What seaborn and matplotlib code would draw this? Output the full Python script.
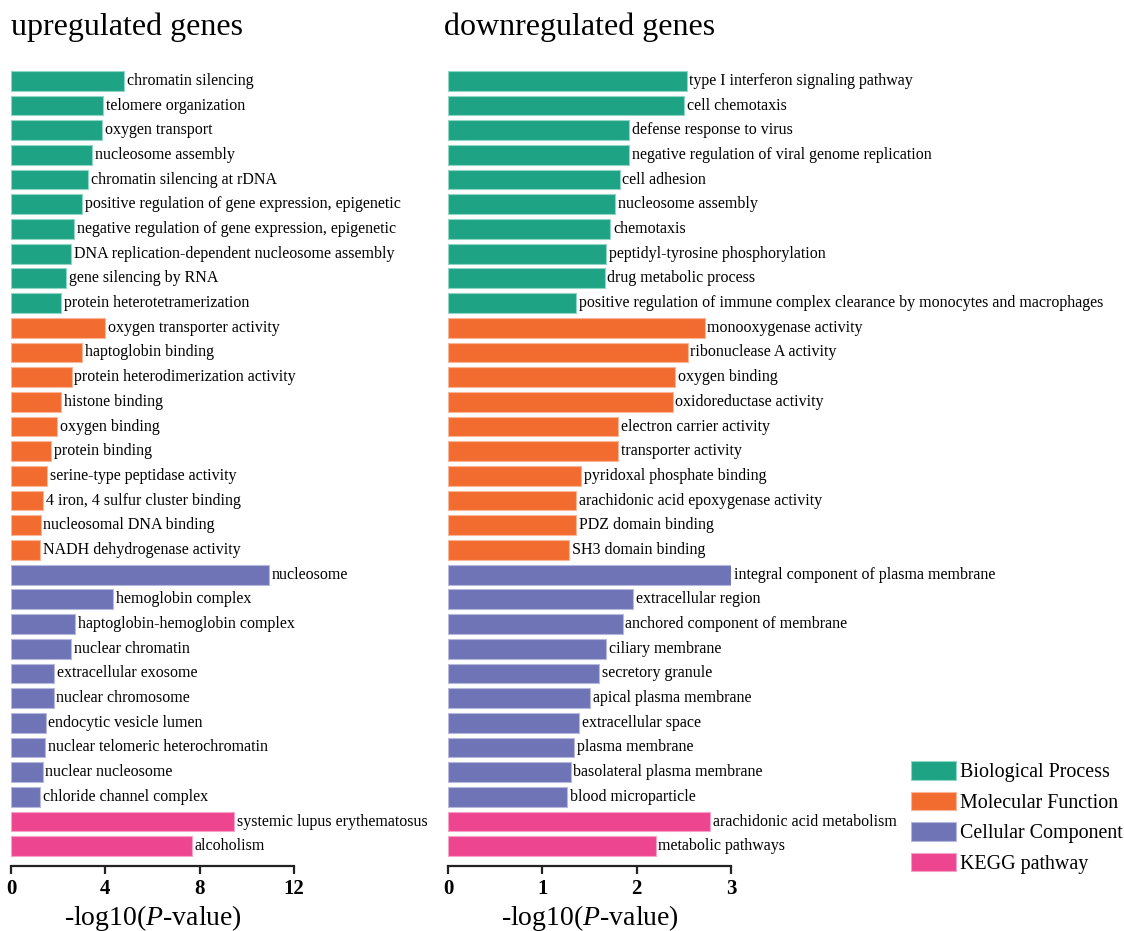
import matplotlib
matplotlib.use("Agg")
import matplotlib.pyplot as plt
from matplotlib.patches import Patch
import seaborn as sns
import pandas as pd

# ---- enrichment results: -log10(P-value) per term ----
up_bp_terms = ["chromatin silencing", "telomere organization", "oxygen transport",
               "nucleosome assembly", "chromatin silencing at rDNA",
               "positive regulation of gene expression, epigenetic",
               "negative regulation of gene expression, epigenetic",
               "DNA replication-dependent nucleosome assembly",
               "gene silencing by RNA", "protein heterotetramerization"]
up_bp_vals = [4.79, 3.92, 3.87, 3.45, 3.27, 3.01, 2.66, 2.56, 2.35, 2.13]

up_mf_terms = ["oxygen transporter activity", "haptoglobin binding",
               "protein heterodimerization activity", "histone binding",
               "oxygen binding", "protein binding", "serine-type peptidase activity",
               "4 iron, 4 sulfur cluster binding", "nucleosomal DNA binding",
               "NADH dehydrogenase activity"]
up_mf_vals = [4.00, 3.00, 2.57, 2.12, 1.94, 1.71, 1.53, 1.37, 1.26, 1.22]

up_cc_terms = ["nucleosome", "hemoglobin complex", "haptoglobin-hemoglobin complex",
               "nuclear chromatin", "extracellular exosome", "nuclear chromosome",
               "endocytic vesicle lumen", "nuclear telomeric heterochromatin",
               "nuclear nucleosome", "chloride channel complex"]
up_cc_vals = [10.93, 4.33, 2.71, 2.54, 1.84, 1.81, 1.47, 1.44, 1.34, 1.22]

up_kegg_terms = ["systemic lupus erythematosus", "alcoholism"]
up_kegg_vals = [9.47, 7.68]

down_bp_terms = ["type I interferon signaling pathway", "cell chemotaxis",
                 "defense response to virus",
                 "negative regulation of viral genome replication", "cell adhesion",
                 "nucleosome assembly", "chemotaxis",
                 "peptidyl-tyrosine phosphorylation", "drug metabolic process",
                 "positive regulation of immune complex clearance by monocytes and macrophages"]
down_bp_vals = [2.53, 2.50, 1.92, 1.92, 1.82, 1.77, 1.72, 1.68, 1.66, 1.36]

down_mf_terms = ["monooxygenase activity", "ribonuclease A activity", "oxygen binding",
                 "oxidoreductase activity", "electron carrier activity",
                 "transporter activity", "pyridoxal phosphate binding",
                 "arachidonic acid epoxygenase activity", "PDZ domain binding",
                 "SH3 domain binding"]
down_mf_vals = [2.72, 2.54, 2.41, 2.38, 1.80, 1.80, 1.41, 1.36, 1.36, 1.28]

down_cc_terms = ["integral component of plasma membrane", "extracellular region",
                 "anchored component of membrane", "ciliary membrane",
                 "secretory granule", "apical plasma membrane", "extracellular space",
                 "plasma membrane", "basolateral plasma membrane", "blood microparticle"]
down_cc_vals = [3.00, 1.96, 1.85, 1.68, 1.60, 1.51, 1.39, 1.34, 1.30, 1.26]

down_kegg_terms = ["arachidonic acid metabolism", "metabolic pathways"]
down_kegg_vals = [2.78, 2.20]

categories = ["Biological Process", "Molecular Function", "Cellular Component", "KEGG pathway"]
colors = ["#1FA385", "#F26C30", "#6E74B6", "#EE4590"]
edges = ["#8FD6C4", "#F9B597", "#B6B9DB", "#F6A2C7"]
palette = dict(zip(categories, colors))

up_ticks = [0, 4, 8, 12]
down_ticks = [0, 1, 2, 3]


def build(groups):
    rows = []
    for cat, (terms, vals) in zip(categories, groups):
        for t, v in zip(terms, vals):
            rows.append({"term": t, "value": v, "category": cat})
    return pd.DataFrame(rows)


up_df = build([(up_bp_terms, up_bp_vals), (up_mf_terms, up_mf_vals),
               (up_cc_terms, up_cc_vals), (up_kegg_terms, up_kegg_vals)])
down_df = build([(down_bp_terms, down_bp_vals), (down_mf_terms, down_mf_vals),
                 (down_cc_terms, down_cc_vals), (down_kegg_terms, down_kegg_vals)])

sns.set_theme(style="white")
plt.rcParams["font.family"] = ["Liberation Serif", "DejaVu Serif"]
plt.rcParams["mathtext.fontset"] = "custom"
plt.rcParams["mathtext.rm"] = "Liberation Serif"
plt.rcParams["mathtext.it"] = "Liberation Serif:italic"
plt.rcParams["text.color"] = "black"
plt.rcParams["axes.labelcolor"] = "black"
plt.rcParams["xtick.color"] = "black"

W, H = 1124, 931
fig = plt.figure(figsize=(W / 100, H / 100), dpi=100)

ax_bottom = (H - 866) / H
ax_top = (H - 68.5) / H
ax_w = 283 / W
ax_up = fig.add_axes([11 / W, ax_bottom, ax_w, ax_top - ax_bottom])
ax_dn = fig.add_axes([448 / W, ax_bottom, ax_w, ax_top - ax_bottom])


def draw(ax, df, ticks, xmax):
    sns.barplot(data=df, y="term", x="value", hue="category", palette=palette,
                hue_order=categories, dodge=False, width=0.8, legend=False,
                saturation=1, orient="h", ax=ax)
    edge_map = dict(zip(categories, edges))
    cat_of = df["category"].tolist()
    bars = [p for c in ax.containers for p in c]
    for p in bars:
        idx = int(round(p.get_y() + p.get_height() / 2))
        p.set_edgecolor(edge_map[cat_of[idx]])
        p.set_linewidth(0.8)
    for i, (t, v) in enumerate(zip(df["term"], df["value"])):
        ax.annotate(t, xy=(v, i), xytext=(2, 0), textcoords="offset points",
                    va="center", ha="left", fontsize=11.5, color="black",
                    annotation_clip=False)
    ax.set_xlim(0, xmax)
    ax.set_ylim(len(df) - 1 + 0.8, -0.5)
    ax.set_xticks(ticks)
    ax.set_xticklabels([str(t) for t in ticks], fontsize=15, fontweight="bold")
    ax.set_yticks([])
    ax.set_ylabel("")
    ax.set_xlabel("-log10($\\it{P}$-value)", fontsize=20, labelpad=3)
    for s in ["left", "right", "top"]:
        ax.spines[s].set_visible(False)
    ax.spines["bottom"].set_linewidth(1.6)
    ax.spines["bottom"].set_color("#222222")
    ax.tick_params(axis="x", direction="out", length=6, width=1.6,
                   color="#222222", pad=3, bottom=True)
    ax.set_facecolor("white")


draw(ax_up, up_df, up_ticks, 12)
draw(ax_dn, down_df, down_ticks, 3)

fig.text(11 / W, (H - 35) / H, "upregulated genes", fontsize=23, va="baseline", ha="left")
fig.text(444 / W, (H - 35) / H, "downregulated genes", fontsize=23, va="baseline", ha="left")

handles = [Patch(facecolor=c, edgecolor=e, linewidth=0.8) for c, e in zip(colors, edges)]
fig.legend(handles, categories, loc="upper left",
           bbox_to_anchor=(911 / W, (H - 761) / H), frameon=False,
           fontsize=14.4, handlelength=2.25, handleheight=1.05,
           handletextpad=0.2, labelspacing=0.47, borderpad=0, borderaxespad=0)

fig.savefig("out.png", dpi=100, facecolor="white")
